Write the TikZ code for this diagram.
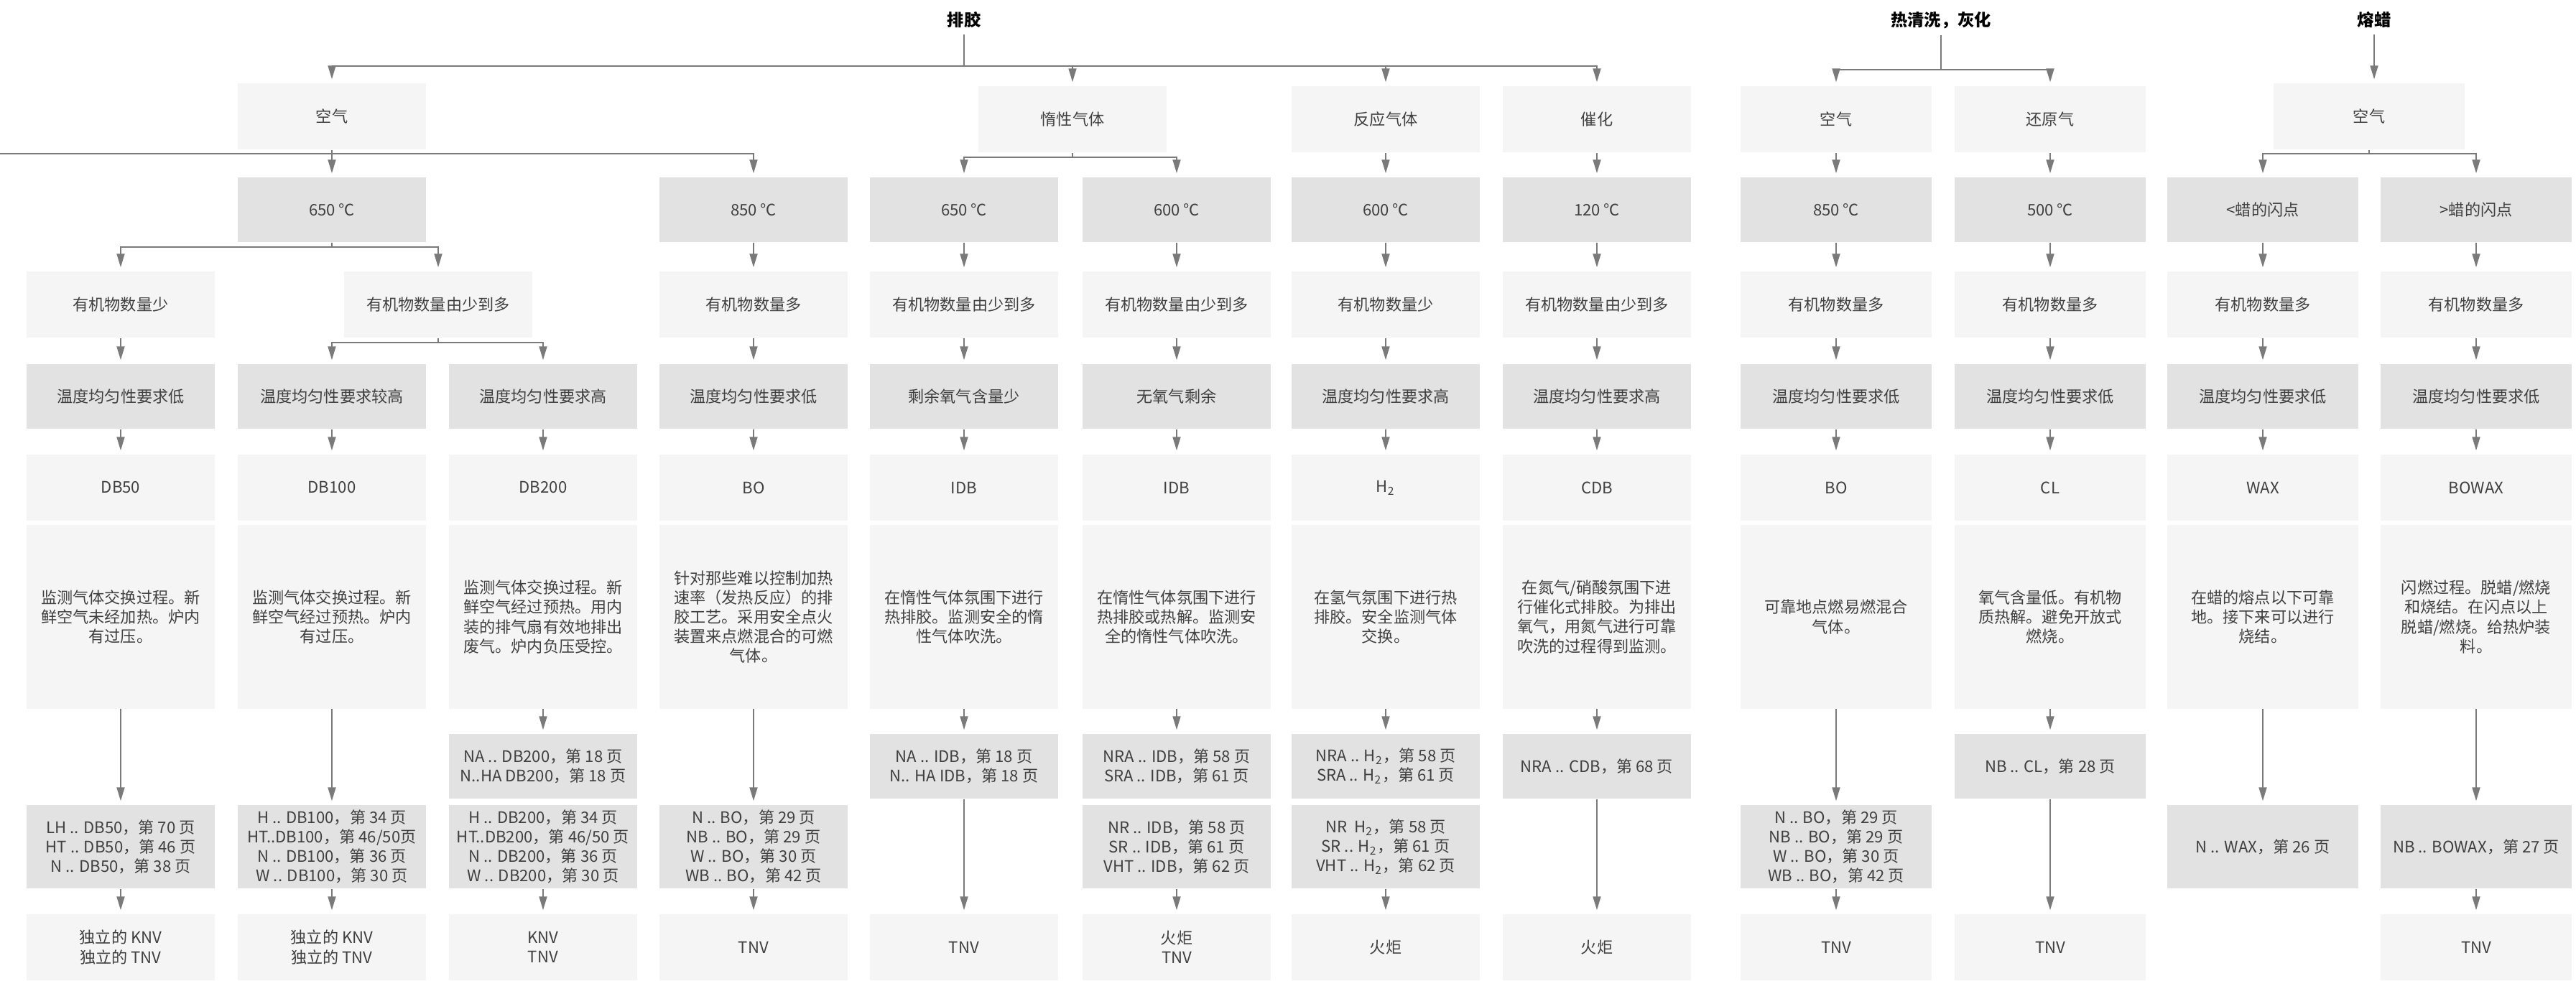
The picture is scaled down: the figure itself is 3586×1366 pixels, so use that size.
\documentclass[tikz,border=0pt]{standalone}
\usepackage{fontspec}
\setmainfont{Noto Sans CJK SC}
\usetikzlibrary{arrows.meta}
\definecolor{lfill}{HTML}{F5F5F5}
\definecolor{dfill}{HTML}{E2E2E2}
\definecolor{lncol}{HTML}{7A7A7A}
\definecolor{txt}{HTML}{404040}
\begin{document}
\begin{tikzpicture}[x=0.01cm,y=-0.01cm,
  box/.style={inner sep=0pt, minimum width=2.62cm, align=center, text=txt, font=\fontsize{6.3pt}{7.7pt}\selectfont},
  lbox/.style={box, fill=lfill},
  dbox/.style={box, fill=dfill},
  rA/.style={minimum height=0.92cm},
  rT/.style={minimum height=0.90cm},
  rD/.style={minimum height=2.55cm},
  rS/.style={minimum height=1.16cm},
  ln/.style={draw=lncol, line width=0.018cm},
  arr/.style={ln, -{Triangle[length=0.19cm,width=0.11cm]}, shorten >=0.05cm},
  ttl/.style={font=\fontsize{6.6pt}{8pt}\selectfont\bfseries, inner sep=0.08cm, text=black}
]
\useasboundingbox (0,0) rectangle (3586,1366);
\fill[white] (0,0) rectangle (3586,1366);

% titles
\node[ttl] (T1) at (1342,28) {排胶};
\node[ttl] (T2) at (2702,28) {热清洗，灰化};
\node[ttl] (T3) at (3305,28) {熔蜡};

% level 1
\node[lbox,rA] (a2) at (462,162) {空气};
\node[lbox,rA] (a5) at (1493,166) {惰性气体};
\node[lbox,rA] (a7) at (1929,166) {反应气体};
\node[lbox,rA] (a8) at (2223,166) {催化};
\node[lbox,rA,minimum width=2.65cm] (a9) at (2556,166) {空气};
\node[lbox,rA,minimum width=2.65cm] (a10) at (2854,166) {还原气};
\node[lbox,rA,minimum width=2.65cm] (a11) at (3298,162) {空气};

% temperature row
\node[dbox,rT] (t2) at (462,292) {650 ℃};
\node[dbox,rT] (t4) at (1049,292) {850 ℃};
\node[dbox,rT] (t5) at (1342,292) {650 ℃};
\node[dbox,rT] (t6) at (1638,292) {600 ℃};
\node[dbox,rT] (t7) at (1929,292) {600 ℃};
\node[dbox,rT] (t8) at (2223,292) {120 ℃};
\node[dbox,rT,minimum width=2.65cm] (t9) at (2556,292) {850 ℃};
\node[dbox,rT,minimum width=2.65cm] (t10) at (2854,292) {500 ℃};
\node[dbox,rT,minimum width=2.65cm] (t11) at (3150,292) {<蜡的闪点};
\node[dbox,rT,minimum width=2.65cm] (t12) at (3447,292) {>蜡的闪点};

% organic row
\node[lbox,rA] (o1) at (168,424) {有机物数量少};
\node[lbox,rA] (o23) at (610,424) {有机物数量由少到多};
\node[lbox,rA] (o4) at (1049,424) {有机物数量多};
\node[lbox,rA] (o5) at (1342,424) {有机物数量由少到多};
\node[lbox,rA] (o6) at (1638,424) {有机物数量由少到多};
\node[lbox,rA] (o7) at (1929,424) {有机物数量少};
\node[lbox,rA] (o8) at (2223,424) {有机物数量由少到多};
\node[lbox,rA,minimum width=2.65cm] (o9) at (2556,424) {有机物数量多};
\node[lbox,rA,minimum width=2.65cm] (o10) at (2854,424) {有机物数量多};
\node[lbox,rA,minimum width=2.65cm] (o11) at (3150,424) {有机物数量多};
\node[lbox,rA,minimum width=2.65cm] (o12) at (3447,424) {有机物数量多};

% uniformity row
\node[dbox,rT] (u1) at (168,552) {温度均匀性要求低};
\node[dbox,rT] (u2) at (462,552) {温度均匀性要求较高};
\node[dbox,rT] (u3) at (756,552) {温度均匀性要求高};
\node[dbox,rT] (u4) at (1049,552) {温度均匀性要求低};
\node[dbox,rT] (u5) at (1342,552) {剩余氧气含量少};
\node[dbox,rT] (u6) at (1638,552) {无氧气剩余};
\node[dbox,rT] (u7) at (1929,552) {温度均匀性要求高};
\node[dbox,rT] (u8) at (2223,552) {温度均匀性要求高};
\node[dbox,rT,minimum width=2.65cm] (u9) at (2556,552) {温度均匀性要求低};
\node[dbox,rT,minimum width=2.65cm] (u10) at (2854,552) {温度均匀性要求低};
\node[dbox,rT,minimum width=2.65cm] (u11) at (3150,552) {温度均匀性要求低};
\node[dbox,rT,minimum width=2.65cm] (u12) at (3447,552) {温度均匀性要求低};

% code row
\node[lbox,rA] (c1) at (168,679) {DB50};
\node[lbox,rA] (c2) at (462,679) {DB100};
\node[lbox,rA] (c3) at (756,679) {DB200};
\node[lbox,rA] (c4) at (1049,679) {BO};
\node[lbox,rA] (c5) at (1342,679) {IDB};
\node[lbox,rA] (c6) at (1638,679) {IDB};
\node[lbox,rA] (c7) at (1929,679) {H\textsubscript{2}};
\node[lbox,rA] (c8) at (2223,679) {CDB};
\node[lbox,rA,minimum width=2.65cm] (c9) at (2556,679) {BO};
\node[lbox,rA,minimum width=2.65cm] (c10) at (2854,679) {CL};
\node[lbox,rA,minimum width=2.65cm] (c11) at (3150,679) {WAX};
\node[lbox,rA,minimum width=2.65cm] (c12) at (3447,679) {BOWAX};

% description row
\node[lbox,rD] (d1) at (168,859) {监测气体交换过程。新\\鲜空气未经加热。炉内\\有过压。};
\node[lbox,rD] (d2) at (462,859) {监测气体交换过程。新\\鲜空气经过预热。炉内\\有过压。};
\node[lbox,rD] (d3) at (756,859) {监测气体交换过程。新\\鲜空气经过预热。用内\\装的排气扇有效地排出\\废气。炉内负压受控。};
\node[lbox,rD] (d4) at (1049,859) {针对那些难以控制加热\\速率（发热反应）的排\\胶工艺。采用安全点火\\装置来点燃混合的可燃\\气体。};
\node[lbox,rD] (d5) at (1342,859) {在惰性气体氛围下进行\\热排胶。监测安全的惰\\性气体吹洗。};
\node[lbox,rD] (d6) at (1638,859) {在惰性气体氛围下进行\\热排胶或热解。监测安\\全的惰性气体吹洗。};
\node[lbox,rD] (d7) at (1929,859) {在氢气氛围下进行热\\排胶。安全监测气体\\交换。};
\node[lbox,rD] (d8) at (2223,859) {在氮气/硝酸氛围下进\\行催化式排胶。为排出\\氧气，用氮气进行可靠\\吹洗的过程得到监测。};
\node[lbox,rD,minimum width=2.65cm] (d9) at (2556,859) {可靠地点燃易燃混合\\气体。};
\node[lbox,rD,minimum width=2.65cm] (d10) at (2854,859) {氧气含量低。有机物\\质热解。避免开放式\\燃烧。};
\node[lbox,rD,minimum width=2.65cm] (d11) at (3150,859) {在蜡的熔点以下可靠\\地。接下来可以进行\\烧结。};
\node[lbox,rD,minimum width=2.65cm] (d12) at (3447,859) {闪燃过程。脱蜡/燃烧\\和烧结。在闪点以上\\脱蜡/燃烧。给热炉装\\料。};

% reference row 1
\node[dbox,rT] (r3) at (756,1067) {NA .. DB200，第 18 页\\N..HA DB200，第 18 页};
\node[dbox,rT] (r5) at (1342,1067) {NA .. IDB，第 18 页\\N.. HA IDB，第 18 页};
\node[dbox,rT] (r6) at (1638,1067) {NRA .. IDB，第 58 页\\SRA .. IDB，第 61 页};
\node[dbox,rT] (r7) at (1929,1067) {NRA .. H\textsubscript{2}，第 58 页\\SRA .. H\textsubscript{2}，第 61 页};
\node[dbox,rT] (r8) at (2223,1067) {NRA .. CDB，第 68 页};
\node[dbox,rT,minimum width=2.65cm] (r10) at (2854,1067) {NB .. CL，第 28 页};

% reference row 2
\node[dbox,rS] (s1) at (168,1179) {LH .. DB50，第 70 页\\HT .. DB50，第 46 页\\N .. DB50，第 38 页};
\node[dbox,rS] (s2) at (462,1179) {H .. DB100，第 34 页\\HT..DB100，第 46/50页\\N .. DB100，第 36 页\\W .. DB100，第 30 页};
\node[dbox,rS] (s3) at (756,1179) {H .. DB200，第 34 页\\HT..DB200，第 46/50 页\\N .. DB200，第 36 页\\W .. DB200，第 30 页};
\node[dbox,rS] (s4) at (1049,1179) {N .. BO，第 29 页\\NB .. BO，第 29 页\\W .. BO，第 30 页\\WB .. BO，第 42 页};
\node[dbox,rS] (s6) at (1638,1179) {NR .. IDB，第 58 页\\SR .. IDB，第 61 页\\VHT .. IDB，第 62 页};
\node[dbox,rS] (s7) at (1929,1179) {NR~~H\textsubscript{2}，第 58 页\\SR .. H\textsubscript{2}，第 61 页\\VHT .. H\textsubscript{2}，第 62 页};
\node[dbox,rS,minimum width=2.65cm] (s9) at (2556,1179) {N .. BO，第 29 页\\NB .. BO，第 29 页\\W .. BO，第 30 页\\WB .. BO，第 42 页};
\node[dbox,rS,minimum width=2.65cm] (s11) at (3150,1179) {N .. WAX，第 26 页};
\node[dbox,rS,minimum width=2.65cm] (s12) at (3447,1179) {NB .. BOWAX，第 27 页};

% final row
\node[lbox,rA] (f1) at (168,1319) {独立的 KNV\\独立的 TNV};
\node[lbox,rA] (f2) at (462,1319) {独立的 KNV\\独立的 TNV};
\node[lbox,rA] (f3) at (756,1319) {KNV\\TNV};
\node[lbox,rA] (f4) at (1049,1319) {TNV};
\node[lbox,rA] (f5) at (1342,1319) {TNV};
\node[lbox,rA] (f6) at (1638,1319) {火炬\\TNV};
\node[lbox,rA] (f7) at (1929,1319) {火炬};
\node[lbox,rA] (f8) at (2223,1319) {火炬};
\node[lbox,rA,minimum width=2.65cm] (f9) at (2556,1319) {TNV};
\node[lbox,rA,minimum width=2.65cm] (f10) at (2854,1319) {TNV};
\node[lbox,rA,minimum width=2.65cm] (f12) at (3447,1319) {TNV};

% ---- connectors ----
\coordinate (top1) at (1342,92);
\draw[ln] (T1.south) -- (top1);
\draw[arr] (top1) -| (a2.north);
\draw[arr] (top1) -| (a5.north);
\draw[arr] (top1) -| (a7.north);
\draw[arr] (top1) -| (a8.north);

\coordinate (j9) at (2702,97);
\draw[ln] (T2.south) -- (j9);
\draw[arr] (j9) -| (a9.north);
\draw[arr] (j9) -| (a10.north);

\draw[arr] (T3.south) -- (T3.south |- a11.north);

\coordinate (L0) at (0,214);
\coordinate (j1) at (462,214);
\draw[ln] (a2.south) -- (j1);
\draw[ln] (L0) -- (j1);
\draw[arr] (j1) -- (t2.north);
\draw[arr] (j1) -| (t4.north);

\coordinate (j5) at (1493,219);
\draw[ln] (a5.south) -- (j5);
\draw[arr] (j5) -| (t5.north);
\draw[arr] (j5) -| (t6.north);

\draw[arr] (a7.south) -- (t7.north);
\draw[arr] (a8.south) -- (t8.north);
\draw[arr] (a9.south) -- (t9.north);
\draw[arr] (a10.south) -- (t10.north);

\coordinate (j11) at (3298,214);
\draw[ln] (a11.south) -- (j11);
\draw[arr] (j11) -| (t11.north);
\draw[arr] (j11) -| (t12.north);

\coordinate (j2) at (462,344);
\draw[ln] (t2.south) -- (j2);
\draw[arr] (j2) -| (o1.north);
\draw[arr] (j2) -| (o23.north);
\foreach \i in {4,...,12} { \draw[arr] (t\i.south) -- (o\i.north); }

\draw[arr] (o1.south) -- (u1.north);
\coordinate (j23) at (610,477);
\draw[ln] (o23.south) -- (j23);
\draw[arr] (j23) -| (u2.north);
\draw[arr] (j23) -| (u3.north);
\foreach \i in {4,...,12} { \draw[arr] (o\i.south) -- (u\i.north); }

\foreach \i in {1,...,12} { \draw[arr] (u\i.south) -- (c\i.north); }

\foreach \i in {3,5,6,7,8,10} { \draw[arr] (d\i.south) -- (r\i.north); }
\foreach \i in {1,2,4,9,11,12} { \draw[arr] (d\i.south) -- (s\i.north); }
\foreach \i in {1,2,3,4,6,7,9,12} { \draw[arr] (s\i.south) -- (f\i.north); }
\foreach \i in {5,8,10} { \draw[arr] (r\i.south) -- (f\i.north); }
\end{tikzpicture}
\end{document}
